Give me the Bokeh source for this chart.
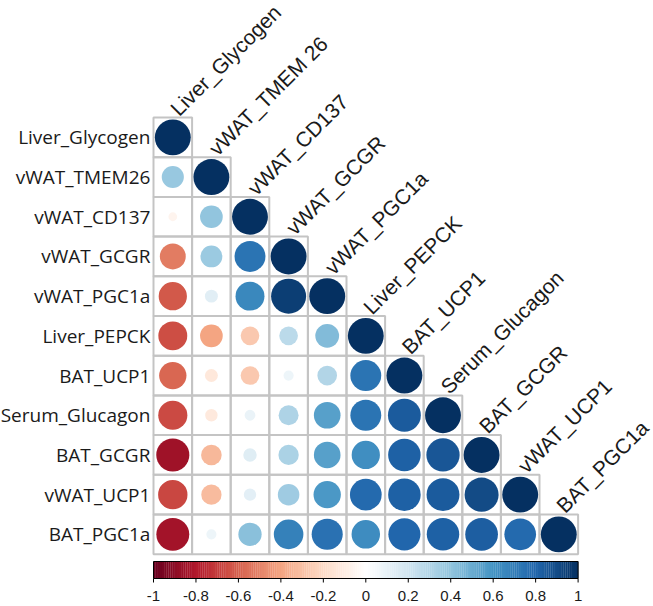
import numpy as np
from bokeh.plotting import figure
from bokeh.models import Range1d, ColumnDataSource
from bokeh.core.properties import value
from bokeh.embed import file_html
from bokeh.resources import INLINE

# ---- data ----
variables = ["Liver_Glycogen", "vWAT_TMEM26", "vWAT_CD137", "vWAT_GCGR", "vWAT_PGC1a",
             "Liver_PEPCK", "BAT_UCP1", "Serum_Glucagon", "BAT_GCGR", "vWAT_UCP1", "BAT_PGC1a"]
col_labels = ["Liver_Glycogen", "vWAT_TMEM 26", "vWAT_CD137", "vWAT_GCGR", "vWAT_PGC1a",
              "Liver_PEPCK", "BAT_UCP1", "Serum_Glucagon", "BAT_GCGR", "vWAT_UCP1", "BAT_PGC1a"]
corr_lower = [
    [1.00],
    [0.38, 1.00],
    [-0.06, 0.40, 1.00],
    [-0.52, 0.37, 0.74, 1.00],
    [-0.62, 0.13, 0.65, 0.95, 1.00],
    [-0.65, -0.40, -0.27, 0.27, 0.44, 1.00],
    [-0.58, -0.13, -0.27, 0.08, 0.30, 0.74, 1.00],
    [-0.66, -0.12, 0.09, 0.31, 0.55, 0.74, 0.84, 1.00],
    [-0.85, -0.33, 0.14, 0.32, 0.55, 0.62, 0.82, 0.86, 1.00],
    [-0.67, -0.32, 0.12, 0.36, 0.58, 0.78, 0.82, 0.84, 0.90, 1.00],
    [-0.84, 0.08, 0.42, 0.68, 0.75, 0.63, 0.80, 0.82, 0.83, 0.78, 1.00],
]
cbar_ticks = [-1, -0.8, -0.6, -0.4, -0.2, 0, 0.2, 0.4, 0.6, 0.8, 1]
cbar_tick_labels = ["-1", "-0.8", "-0.6", "-0.4", "-0.2", "0", "0.2", "0.4", "0.6", "0.8", "1"]

# ---- palette (RdBu as in corrplot) ----
anchors = ["#67001F", "#B2182B", "#D6604D", "#F4A582", "#FDDBC7", "#FFFFFF",
           "#D1E5F0", "#92C5DE", "#4393C3", "#2166AC", "#053061"]
anc_rgb = np.array([[int(h[i:i + 2], 16) for i in (1, 3, 5)] for h in anchors], dtype=float)


def rdbu(v):
    t = (v + 1) / 2 * (len(anchors) - 1)
    i = int(np.clip(np.floor(t), 0, len(anchors) - 2))
    f = t - i
    c = anc_rgb[i] * (1 - f) + anc_rgb[i + 1] * f
    return "#%02x%02x%02x" % tuple(int(round(x)) for x in c)


n = len(variables)

W, H = 653, 604
p = figure(width=W, height=H, output_backend="svg", toolbar_location=None,
           min_border=0, background_fill_color="white", border_fill_color="white")
cw, ch = 38.6, 39.7
x0 = -153 / cw
y1 = n + 117 / ch
p.x_range = Range1d(x0, x0 + W / cw)
p.y_range = Range1d(y1 - H / ch, y1)
p.axis.visible = False
p.xgrid.visible = False
p.ygrid.visible = False
p.outline_line_color = None

# cells
xs, ys, vals, cols, rads = [], [], [], [], []
for i, row in enumerate(corr_lower):
    for j, v in enumerate(row):
        xs.append(j + 0.5)
        ys.append(n - i - 0.5)
        vals.append(v)
        cols.append(rdbu(v))
        rads.append(0.465 * np.sqrt(abs(v)))
src = ColumnDataSource(dict(x=xs, y=ys, v=vals, c=cols, r=rads))
p.rect("x", "y", width=1, height=1, source=src, fill_color=None,
       line_color="#c4c4c4", line_width=2)
p.circle("x", "y", radius="r", source=src, fill_color="c", line_color=None)

# row labels
p.text(x=[-0.08] * n, y=[n - i - 0.5 for i in range(n)], text=variables,
       text_align="right", text_baseline="middle",
       text_font=value("Open Sans"), text_font_size="19px", text_color="#1a1a1a")

# column labels (rotated)
p.text(x=[j + 0.53 for j in range(n)], y=[n - j + 0.14 for j in range(n)], text=col_labels,
       angle=np.pi / 4, text_align="left", text_baseline="alphabetic",
       text_font=value("Liberation Sans"), text_font_size="21px", text_color="#1a1a1a")

# colorbar
cb_top = y1 - 561 / ch
cb_bot = y1 - 578 / ch
m = 200
edges = np.linspace(-1, 1, m + 1)
mids = (edges[:-1] + edges[1:]) / 2
to_x = lambda v: (np.asarray(v) + 1) / 2 * n
p.quad(left=to_x(edges[:-1]), right=to_x(edges[1:]) + 0.005, top=cb_top, bottom=cb_bot,
       fill_color=[rdbu(v) for v in mids], line_color=None)
p.quad(left=[0], right=[n], top=[cb_top], bottom=[cb_bot], fill_color=None,
       line_color="black", line_width=1)
tx = to_x(cbar_ticks)
p.segment(x0=tx, y0=[cb_bot] * len(tx), x1=tx, y1=[cb_bot - 4 / ch] * len(tx),
          line_color="black", line_width=1)
p.text(x=tx, y=[y1 - 595 / ch] * len(tx), text=cbar_tick_labels,
       text_align="center", text_baseline="middle",
       text_font=value("Liberation Sans"), text_font_size="15px", text_color="#1a1a1a")

open("out.html", "w").write(file_html(p, INLINE))
